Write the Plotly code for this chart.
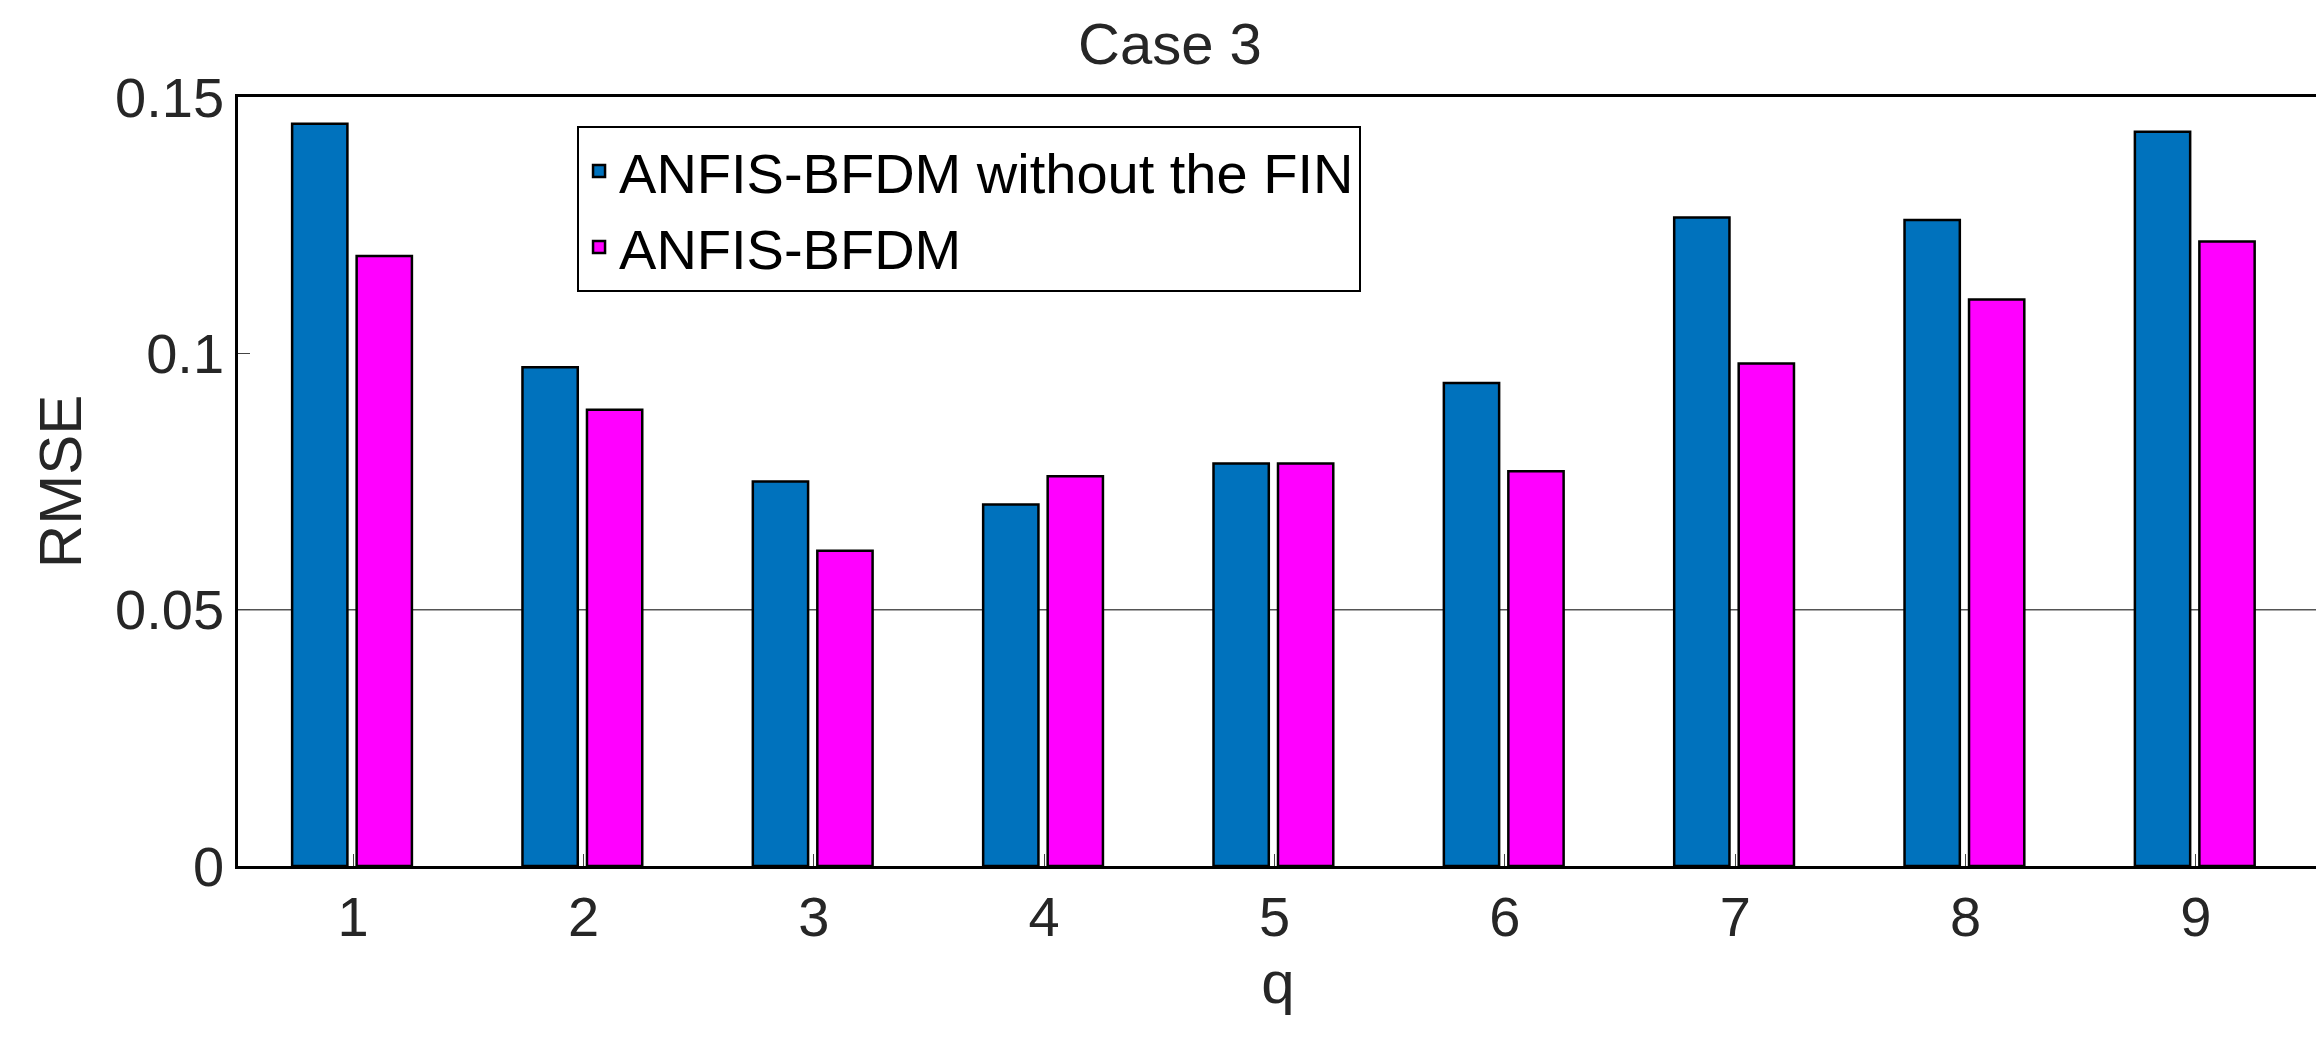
import plotly.graph_objects as go

q = [1, 2, 3, 4, 5, 6, 7, 8, 9]
rmse_without_fin = [0.1448, 0.0973, 0.0750, 0.0705, 0.0785, 0.0942, 0.1265, 0.1260, 0.1432]
rmse_bfdm = [0.1190, 0.0890, 0.0615, 0.0760, 0.0785, 0.0770, 0.0980, 0.1105, 0.1218]

fig = go.Figure()
fig.add_bar(x=q, y=rmse_without_fin, name="ANFIS-BFDM without the FIN",
            marker=dict(color="#0072BD", line=dict(color="black", width=2.5)),
            width=0.24, offset=-0.265)
fig.add_bar(x=q, y=rmse_bfdm, name="ANFIS-BFDM",
            marker=dict(color="#FF00FF", line=dict(color="black", width=2.5)),
            width=0.24, offset=0.015)

font = dict(family="Liberation Sans, Arial", color="#262626")
fig.update_layout(
    width=2324, height=1040, plot_bgcolor="white", paper_bgcolor="white",
    margin=dict(l=230, r=14, t=89, b=182),
    title=dict(text="Case 3", x=0.5, y=0.985, xanchor="center", yanchor="top",
               font=dict(size=58, **font)),
    font=dict(size=56, **font),
    legend=dict(x=0.163, y=0.962, xanchor="left", yanchor="top",
                bgcolor="white", bordercolor="black", borderwidth=2,
                font=dict(size=56, color="black"), itemwidth=30),
    showlegend=True,
)
fig.update_xaxes(range=[0.5, 9.53], tickvals=q, ticks="inside", ticklen=12,
                 showline=True, linecolor="black", linewidth=2.5, mirror=True,
                 title=dict(text="q", font=dict(size=60), standoff=15), showgrid=False)
fig.update_yaxes(range=[0, 0.15], tickvals=[0, 0.05, 0.1, 0.15],
                 ticktext=["0", "0.05", "0.1", "0.15"], ticks="inside", ticklen=12,
                 showline=True, linecolor="black", linewidth=2.5, mirror=True,
                 showgrid=False, zeroline=False,
                 title=dict(text="RMSE", font=dict(size=60), standoff=15))
fig.add_shape(type="line", xref="paper", yref="y", x0=0, x1=1, y0=0.05, y1=0.05,
              line=dict(color="#555555", width=1.5), layer="below")
fig.write_html("out.html")
